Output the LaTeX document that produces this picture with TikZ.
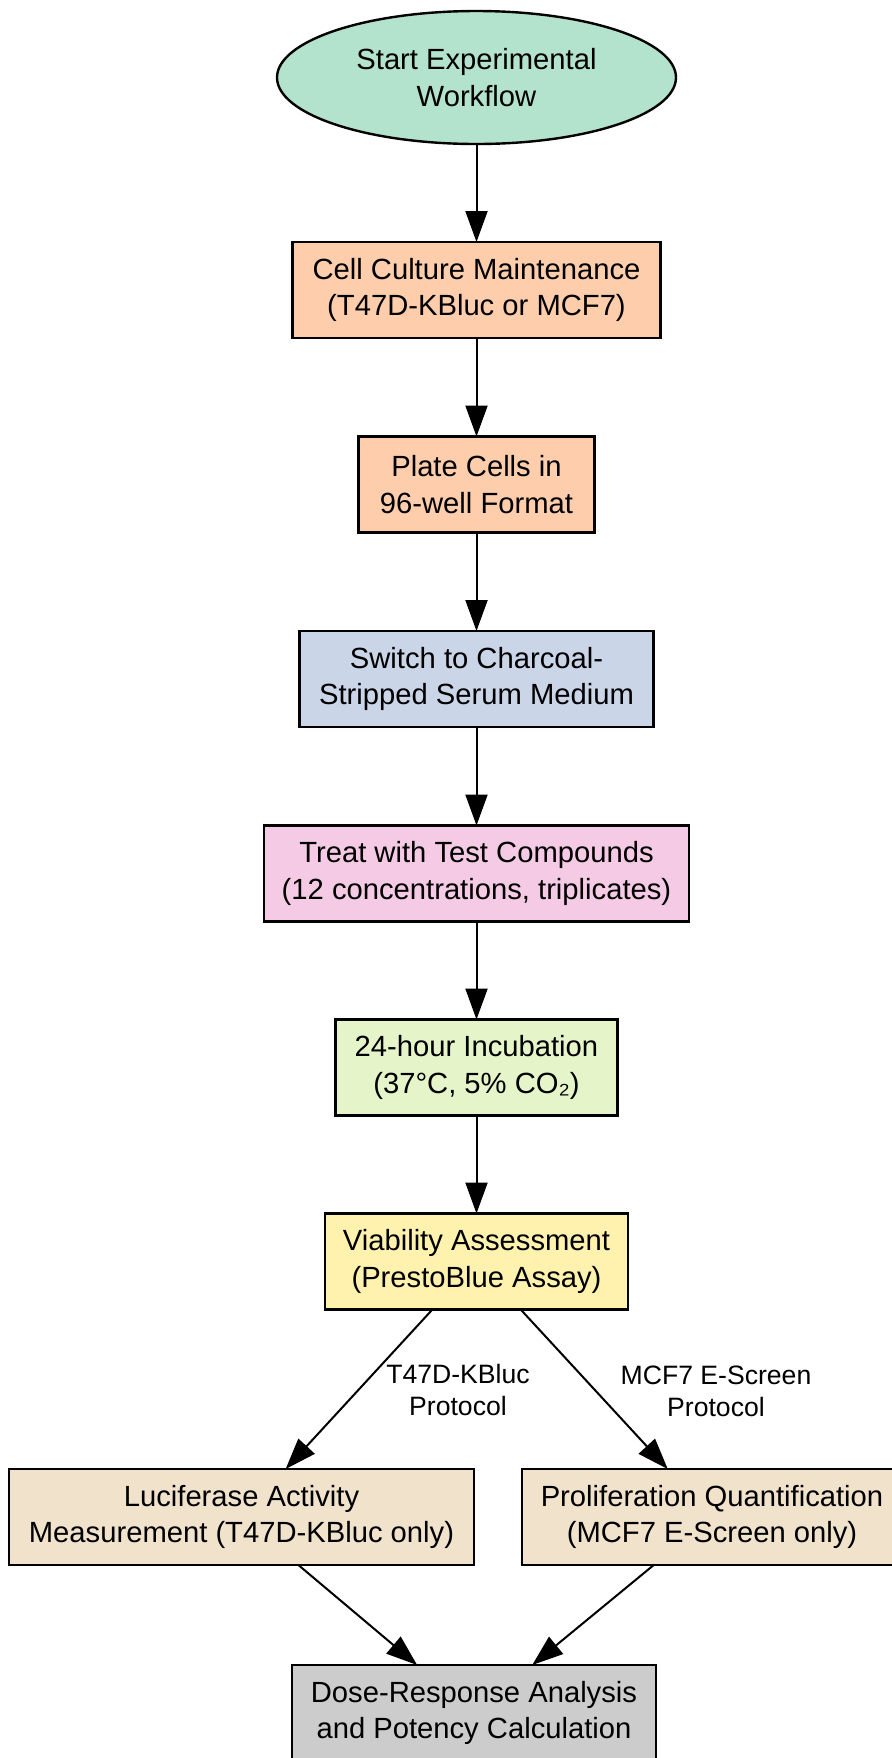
\documentclass[tikz,border=0pt]{standalone}
\usepackage{fontspec}
\setmainfont{Liberation Sans}
\usetikzlibrary{shapes.geometric,arrows.meta}
\definecolor{cStart}{HTML}{B3E2CD}
\definecolor{cOrange}{HTML}{FDCDAC}
\definecolor{cBlue}{HTML}{CBD5E8}
\definecolor{cPink}{HTML}{F4CAE4}
\definecolor{cGreen}{HTML}{E6F5C9}
\definecolor{cYellow}{HTML}{FFF2AE}
\definecolor{cTan}{HTML}{F1E2CC}
\definecolor{cGrey}{HTML}{CCCCCC}
\begin{document}
\begin{tikzpicture}[x=0.5pt,y=-0.5pt,
  base/.style={draw=black, line width=1.2pt, align=center, inner sep=0pt, outer sep=0pt,
    font=\fontsize{14.6}{18.3}\selectfont},
  stepbox/.style={base, rectangle, minimum height=48pt},
  flow/.style={draw=black, line width=1pt, -{Triangle[length=15.5pt,width=11pt]}},
  elabel/.style={align=center, inner sep=0pt, font=\fontsize{13.3}{16}\selectfont}]
\clip (0,0) rectangle (892,1758);
\fill[white] (0,0) rectangle (892,1758);
\node[base, ellipse, fill=cStart, minimum width=199.5pt, minimum height=66.5pt] (start) at (476.5,77.5) {Start Experimental\\Workflow};
\node[stepbox, fill=cOrange, minimum width=184pt] (cult) at (476.5,290) {Cell Culture Maintenance\\(T47D-KBluc or MCF7)};
\node[stepbox, fill=cOrange, minimum width=118pt] (plate) at (476.5,484.5) {Plate Cells in\\96-well Format};
\node[stepbox, fill=cBlue, minimum width=177pt] (switch) at (476.5,679) {Switch to Charcoal-\\Stripped Serum Medium};
\node[stepbox, fill=cPink, minimum width=212.5pt] (treat) at (476.5,873.5) {Treat with Test Compounds\\(12 concentrations, triplicates)};
\node[stepbox, fill=cGreen, minimum width=141pt] (incub) at (476.5,1067.5) {24-hour Incubation\\(37°C, 5\% CO₂)};
\node[stepbox, fill=cYellow, minimum width=151.5pt] (viab) at (476.5,1261.5) {Viability Assessment\\(PrestoBlue Assay)};
\node[stepbox, fill=cTan, minimum width=232.5pt] (luc) at (241.5,1517) {Luciferase Activity\\Measurement (T47D-KBluc only)};
\node[stepbox, fill=cTan, minimum width=190pt] (prolif) at (712,1517) {Proliferation Quantification\\(MCF7 E-Screen only)};
\node[stepbox, fill=cGrey, minimum width=182pt] (dose) at (474,1713) {Dose-Response Analysis\\and Potency Calculation};
\draw[flow] (start) -- (cult);
\draw[flow] (cult) -- (plate);
\draw[flow] (plate) -- (switch);
\draw[flow] (switch) -- (treat);
\draw[flow] (treat) -- (incub);
\draw[flow] (incub) -- (viab);
\draw[flow] (viab) -- (luc);
\draw[flow] (viab) -- (prolif);
\draw[flow] (luc) -- (dose);
\draw[flow] (prolif) -- (dose);
\node[elabel] (lab1) at (458,1390) {T47D-KBluc\\Protocol};
\node[elabel] (lab2) at (716,1391) {MCF7 E-Screen\\Protocol};
\end{tikzpicture}
\end{document}
